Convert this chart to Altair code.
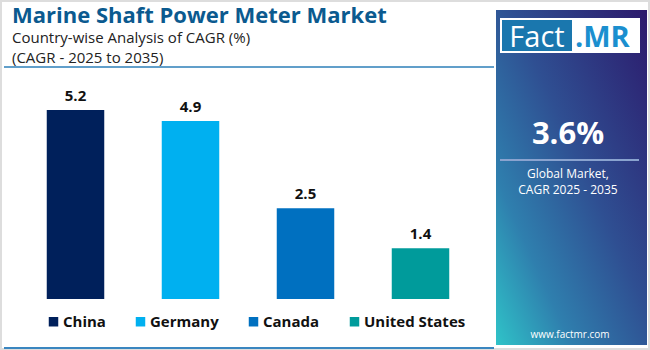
import altair as alt
import pandas as pd

countries = ["China", "Germany", "Canada", "United States"]
values = [5.2, 4.9, 2.5, 1.4]
colors = ["#00205b", "#00b0f0", "#0070c0", "#009b9b"]

title = "Marine Shaft Power Meter Market"
subtitle1 = "Country-wise Analysis of CAGR (%)"
subtitle2 = "(CAGR - 2025 to 2035)"
global_value = "3.6%"
global_lines = ["Global Market,", "CAGR 2025 - 2035"]
website = "www.factmr.com"

# layout (plot area in page pixels)
PL, PT, PR, PB = 18, 81, 478, 299
W, H = PR - PL, PB - PT

def px(x):
    return alt.value(x - PL)

def py(y):
    return alt.value(y - PT)

df = pd.DataFrame({"Country": countries, "CAGR": values})
one = pd.DataFrame({"a": [0]})

color_scale = alt.Scale(domain=countries, range=colors)

bars = alt.Chart(df).mark_bar().encode(
    x=alt.X("Country:N", sort=countries,
            scale=alt.Scale(paddingInner=0.5, paddingOuter=0.25), axis=None),
    y=alt.Y("CAGR:Q", scale=alt.Scale(domain=[0, 6], nice=False),
            axis=alt.Axis(grid=True, gridColor="#efefef", gridWidth=1,
                          values=[0, 1, 2, 3, 4, 5, 6],
                          labels=False, ticks=False, domain=False, title=None)),
    color=alt.Color("Country:N", scale=color_scale, sort=countries,
                    legend=alt.Legend(orient="none", direction="horizontal",
                                      legendX=47 - PL - 1, legendY=322 - PT - 8,
                                      title=None, symbolType="square", symbolSize=90,
                                      symbolStrokeWidth=0, symbolOpacity=1,
                                      labelFont="Open Sans", labelFontWeight="bold",
                                      labelFontSize=15, labelColor="#111111",
                                      columnPadding=27, labelOffset=2, padding=0)),
)

labels = alt.Chart(df).mark_text(dy=-14, fontSize=15, fontWeight="bold",
                                 font="Open Sans", color="#111111").encode(
    x=alt.X("Country:N", sort=countries),
    y=alt.Y("CAGR:Q"),
    text=alt.Text("CAGR:Q", format=".1f"),
)

# outer frame
frame = alt.Chart(one).mark_rect(fill="white", stroke="#dddddd", strokeWidth=2).encode(
    x=px(1), x2=px(649), y=py(1), y2=py(349))

# header texts
t_title = alt.Chart(one).mark_text(align="left", baseline="alphabetic", fontSize=22,
                                   fontWeight="bold", font="Open Sans",
                                   color="#0b5a8f").encode(
    x=px(12), y=py(23), text=alt.value(title))
t_sub1 = alt.Chart(one).mark_text(align="left", baseline="alphabetic", fontSize=15,
                                  font="Open Sans", color="#222222").encode(
    x=px(12), y=py(43), text=alt.value(subtitle1))
t_sub2 = alt.Chart(one).mark_text(align="left", baseline="alphabetic", fontSize=15,
                                  font="Open Sans", color="#222222").encode(
    x=px(12), y=py(63), text=alt.value(subtitle2))
hline = alt.Chart(one).mark_rule(color="#2d7fb8", strokeWidth=1.5).encode(
    x=px(4), x2=px(494), y=py(67))
bline = alt.Chart(one).mark_rule(color="#3a86c0", strokeWidth=2).encode(
    x=px(4), x2=px(494), y=py(348))

# right panel
grad = alt.LinearGradient(
    gradient="linear", x1=1, y1=0, x2=0, y2=1,
    stops=[alt.GradientStop(color="#2c1a6c", offset=0),
           alt.GradientStop(color="#2f4f92", offset=0.45),
           alt.GradientStop(color="#2f7fae", offset=0.75),
           alt.GradientStop(color="#2fc3c8", offset=1)])
panel = alt.Chart(one).mark_rect(color=grad).encode(
    x=px(496), x2=px(647), y=py(10), y2=py(345))

logo_bg = alt.Chart(one).mark_rect(color="white").encode(
    x=px(500), x2=px(640), y=py(18), y2=py(53))
logo_blue = alt.Chart(one).mark_rect(color="#1a77ae").encode(
    x=px(502), x2=px(572), y=py(20), y2=py(51))
logo_fact = alt.Chart(one).mark_text(align="center", baseline="alphabetic", fontSize=29,
                                     font="Open Sans", color="white").encode(
    x=px(537), y=py(47), text=alt.value("Fact"))
logo_mr = alt.Chart(one).mark_text(align="left", baseline="alphabetic", fontSize=29,
                                   fontWeight="bold", font="Open Sans",
                                   color="#1b8fcf").encode(
    x=px(575), y=py(47), text=alt.value(".MR"))

big = alt.Chart(one).mark_text(align="center", baseline="alphabetic", fontSize=31,
                               fontWeight="bold", font="Open Sans", color="white").encode(
    x=px(568), y=py(144), text=alt.value(global_value))
sep = alt.Chart(one).mark_rule(color="#8aa3cf", strokeWidth=2).encode(
    x=px(500), x2=px(639), y=py(160))
g1 = alt.Chart(one).mark_text(align="center", baseline="alphabetic", fontSize=12,
                              font="Open Sans", color="white").encode(
    x=px(568), y=py(178), text=alt.value(global_lines[0]))
g2 = alt.Chart(one).mark_text(align="center", baseline="alphabetic", fontSize=12,
                              font="Open Sans", color="white").encode(
    x=px(568), y=py(194), text=alt.value(global_lines[1]))
web = alt.Chart(one).mark_text(align="center", baseline="alphabetic", fontSize=10,
                               font="Open Sans", color="white").encode(
    x=px(570), y=py(338), text=alt.value(website))

chart = alt.layer(
    frame, hline, bline, panel, logo_bg, logo_blue, logo_fact, logo_mr,
    big, sep, g1, g2, web, t_title, t_sub1, t_sub2, bars, labels
).resolve_scale(color="independent").properties(
    width=W, height=H,
    padding={"left": PL, "top": PT, "right": 650 - PR, "bottom": 350 - PB},
    autosize=alt.AutoSizeParams(type="none"),
    background="white",
).configure_view(stroke=None)

chart.save("out.html", embed_options={"renderer": "svg", "actions": False})
